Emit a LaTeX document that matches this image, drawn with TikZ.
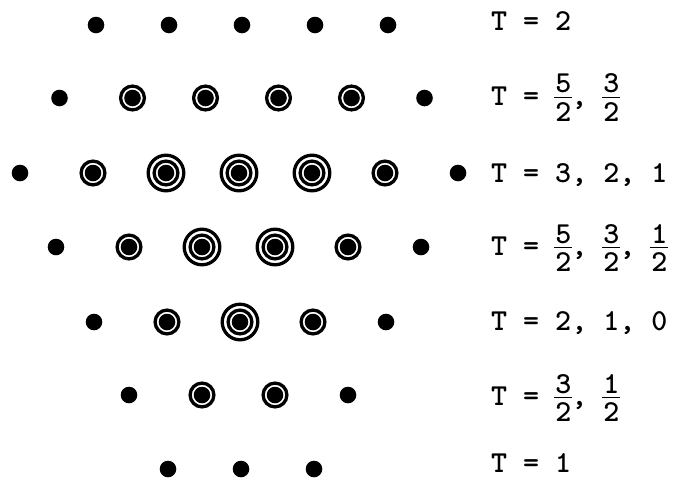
\documentclass[tikz,border=0pt]{standalone}
\usetikzlibrary{positioning}
\newcommand\fr[2]{\kern-1pt\raisebox{-16.5pt}{\vbox{\offinterlineskip
  \hbox to 18pt{\hss#1\hss}\kern3.5pt\hrule height1.2pt\kern4.5pt\hbox to 18pt{\hss#2\hss}}}\kern-1pt}

\begin{document}
\begin{tikzpicture}[
  x=1pt, y=-1pt,
  on grid, node distance=74pt and 73pt,
  dot/.style={circle, fill=black, inner sep=0pt, minimum size=16.6pt},
  m2/.style={circle, draw=black, line width=3.3pt, inner sep=0pt, minimum size=23.8pt,
             path picture={\fill (path picture bounding box.center) circle[radius=8.3pt];}},
  m3/.style={circle, draw=black, line width=3.3pt, inner sep=0pt, minimum size=35.6pt,
             path picture={\fill (path picture bounding box.center) circle[radius=8.3pt];
               \draw[line width=3.3pt] (path picture bounding box.center) circle[radius=11.9pt];}},
  lbl/.style={anchor=base west, inner sep=0pt, font=\ttfamily\bfseries\fontsize{30.5}{36}\selectfont}
]
  \useasboundingbox (0,0) rectangle (677,480);

  % row T = 2
  \node[dot] (a1) at (96,25) {};
  \node[dot, right=of a1] (a2) {};
  \node[dot, right=of a2] (a3) {};
  \node[dot, right=of a3] (a4) {};
  \node[dot, right=of a4] (a5) {};

  % row T = 5/2, 3/2
  \node[dot] (b1) at (59.5,98) {};
  \node[m2, right=of b1] (b2) {};
  \node[m2, right=of b2] (b3) {};
  \node[m2, right=of b3] (b4) {};
  \node[m2, right=of b4] (b5) {};
  \node[dot, right=of b5] (b6) {};

  % row T = 3, 2, 1
  \node[dot] (c1) at (20,173) {};
  \node[m2, right=of c1] (c2) {};
  \node[m3, right=of c2] (c3) {};
  \node[m3, right=of c3] (c4) {};
  \node[m3, right=of c4] (c5) {};
  \node[m2, right=of c5] (c6) {};
  \node[dot, right=of c6] (c7) {};

  % row T = 5/2, 3/2, 1/2
  \node[dot] (d1) at (56,247) {};
  \node[m2, right=of d1] (d2) {};
  \node[m3, right=of d2] (d3) {};
  \node[m3, right=of d3] (d4) {};
  \node[m2, right=of d4] (d5) {};
  \node[dot, right=of d5] (d6) {};

  % row T = 2, 1, 0
  \node[dot] (e1) at (94,322) {};
  \node[m2, right=of e1] (e2) {};
  \node[m3, right=of e2] (e3) {};
  \node[m2, right=of e3] (e4) {};
  \node[dot, right=of e4] (e5) {};

  % row T = 3/2, 1/2
  \node[dot] (f1) at (129,395) {};
  \node[m2, right=of f1] (f2) {};
  \node[m2, right=of f2] (f3) {};
  \node[dot, right=of f3] (f4) {};

  % row T = 1
  \node[dot] (g1) at (168,469) {};
  \node[dot, right=of g1] (g2) {};
  \node[dot, right=of g2] (g3) {};

  % isospin labels
  \node[lbl] (ta) at (491,30) {T = 2};
  \node[lbl] (tb) at (491,105) {T = \fr{5}{2}, \fr{3}{2}};
  \node[lbl] (tc) at (491,182) {T = 3, 2, 1};
  \node[lbl] (td) at (491,255) {T = \fr{5}{2}, \fr{3}{2}, \fr{1}{2}};
  \node[lbl] (te) at (491,330) {T = 2, 1, 0};
  \node[lbl] (tf) at (491,405) {T = \fr{3}{2}, \fr{1}{2}};
  \node[lbl] (tg) at (491,472) {T = 1};
\end{tikzpicture}
\end{document}
